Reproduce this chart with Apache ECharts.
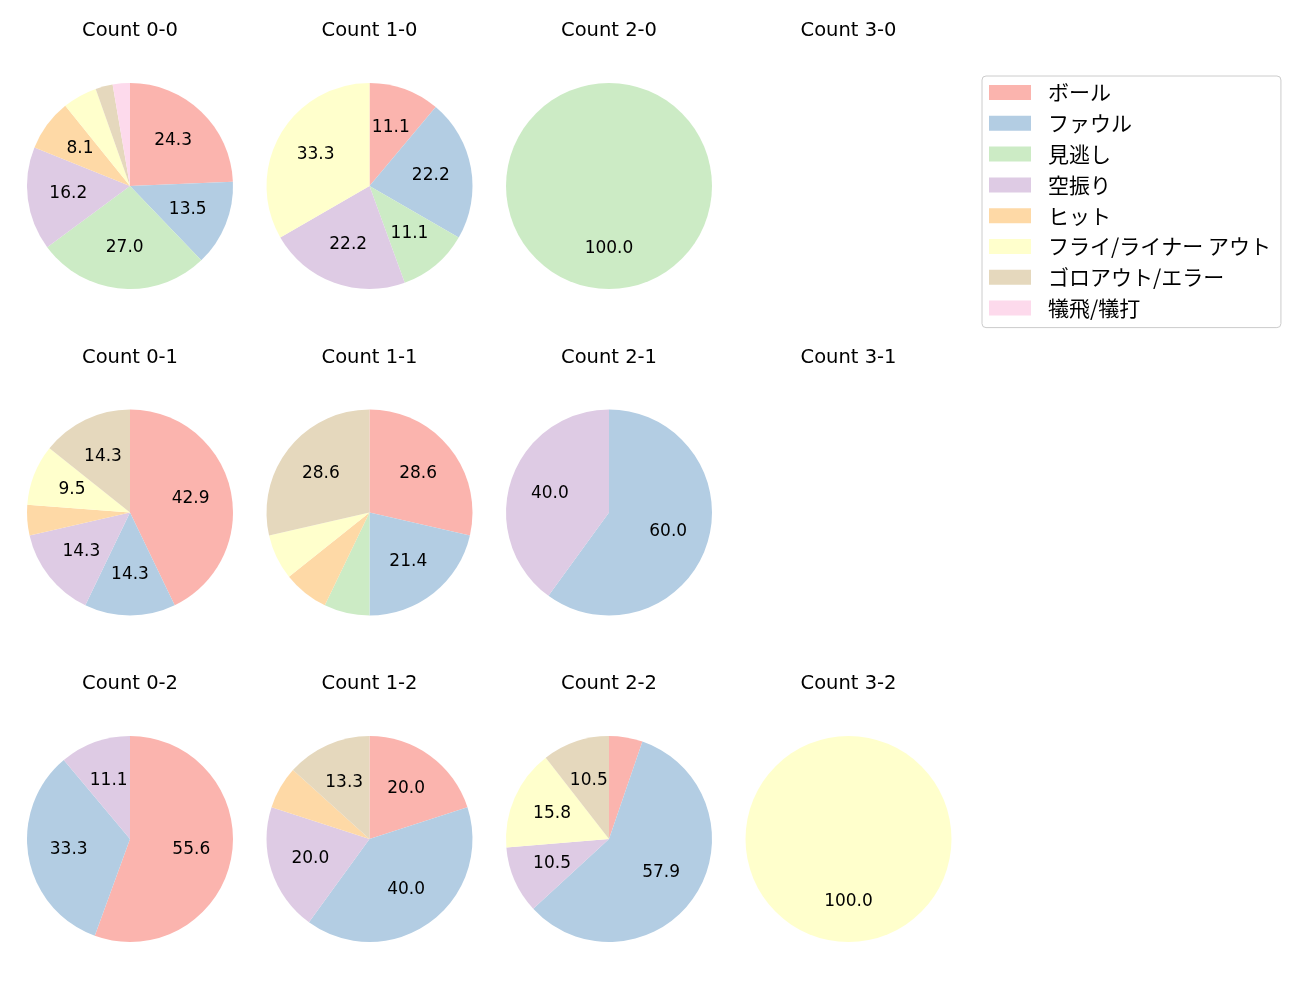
<!DOCTYPE html>
<html>
<head>
<meta charset="utf-8">
<script src="https://cdn.jsdelivr.net/npm/echarts@6/dist/echarts.min.js"></script>
<style>
html,body{margin:0;padding:0;background:#fff;}
#chart{width:1300px;height:1000px;}
</style>
</head>
<body>
<div id="chart"></div>
<script>
// Categories (legend order)
const categories = ['ボール', 'ファウル', '見逃し', '空振り', 'ヒット', 'フライ/ライナー アウト', 'ゴロアウト/エラー', '犠飛/犠打'];
const colors = ['#fbb4ae', '#b3cde3', '#ccebc5', '#decbe4', '#fed9a6', '#ffffcc', '#e5d8bd', '#fddaec'];

// Panel titles (row-major, 3 rows x 4 columns)
const panelTitles = [
  'Count 0-0', 'Count 1-0', 'Count 2-0', 'Count 3-0',
  'Count 0-1', 'Count 1-1', 'Count 2-1', 'Count 3-1',
  'Count 0-2', 'Count 1-2', 'Count 2-2', 'Count 3-2'
];

// Counts per category for each panel (null = no data)
const count00 = [9, 5, 10, 6, 3, 2, 1, 1];
const count10 = [1, 2, 1, 2, 0, 3, 0, 0];
const count20 = [0, 0, 1, 0, 0, 0, 0, 0];
const count30 = null;
const count01 = [9, 3, 0, 3, 1, 2, 3, 0];
const count11 = [4, 3, 1, 0, 1, 1, 4, 0];
const count21 = [0, 3, 0, 2, 0, 0, 0, 0];
const count31 = null;
const count02 = [5, 3, 0, 1, 0, 0, 0, 0];
const count12 = [3, 6, 0, 3, 1, 0, 2, 0];
const count22 = [1, 11, 0, 2, 0, 3, 2, 0];
const count32 = [0, 0, 0, 0, 0, 1, 0, 0];

const panelData = [count00, count10, count20, count30, count01, count11, count21, count31, count02, count12, count22, count32];

// Layout
const colX = [130, 369.5, 609, 848.5];
const rowY = [186, 512.5, 839];
const R = 103;
const labelMinPct = 8;
const latinFont = 'DejaVu Sans';

const graphics = [];
const series = [];
const labelSeries = [];
panelData.forEach((vals, i) => {
  const cx = colX[i % 4], cy = rowY[Math.floor(i / 4)];
  graphics.push({
    type: 'text', x: cx, y: cy - 155, silent: true,
    style: {text: panelTitles[i], textAlign: 'center', textVerticalAlign: 'middle',
      fontFamily: latinFont, fontSize: 19.5, fill: '#000'}
  });
  if (!vals) return;
  const total = vals.reduce((a, b) => a + b, 0);
  series.push({
    type: 'pie', center: [cx, cy], radius: [0, R],
    startAngle: 90, clockwise: true, avoidLabelOverlap: false,
    label: {show: false}, labelLine: {show: false},
    itemStyle: {borderWidth: 0},
    emphasis: {disabled: true}, silent: true, animation: false,
    data: categories.map((c, k) => ({name: c, value: vals[k], itemStyle: {color: colors[k]}}))
  });
  labelSeries.push({
    type: 'pie', center: [cx, cy], radius: [0, R * 1.15],
    startAngle: 90, clockwise: true, avoidLabelOverlap: false,
    labelLine: {show: false},
    itemStyle: {color: 'rgba(0,0,0,0)', borderWidth: 0},
    label: {
      show: true, position: 'inside', color: '#000',
      fontFamily: latinFont, fontSize: 17, padding: [0, 0, 13, 0],
      formatter: p => (p.value / total * 100 >= labelMinPct ? (p.value / total * 100).toFixed(1) : '')
    },
    emphasis: {disabled: true}, silent: true, animation: false, legendHoverLink: false,
    data: categories.map((c, k) => ({name: c, value: vals[k]}))
  });
});

const chart = echarts.init(document.getElementById('chart'), null, {renderer: 'canvas'});
chart.setOption({
  animation: false,
  backgroundColor: '#fff',
  graphic: graphics,
  legend: {
    data: categories,
    orient: 'vertical',
    left: 982, top: 76,
    padding: [6, 10, 9, 7],
    itemWidth: 42, itemHeight: 15,
    itemGap: 9.8,
    icon: 'rect',
    selectedMode: false,
    backgroundColor: '#fff',
    borderColor: '#cccccc', borderWidth: 1, borderRadius: 4,
    textStyle: {fontFamily: 'Noto Sans CJK JP', fontSize: 21, color: '#000', padding: [0, 0, 0, 12]}
  },
  series: series.concat(labelSeries)
});
</script>
</body>
</html>
